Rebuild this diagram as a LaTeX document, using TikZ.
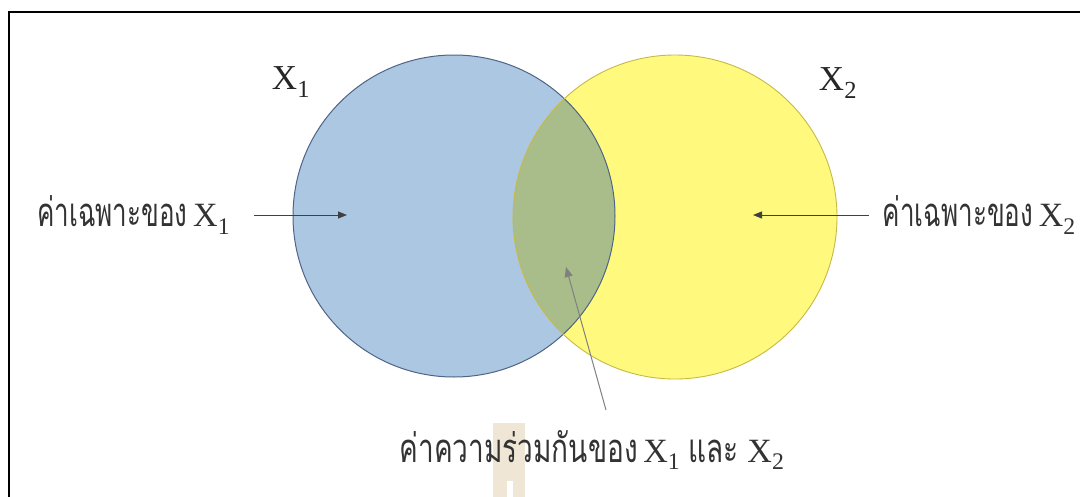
\documentclass[tikz,border=0pt]{standalone}
\usepackage{fontspec}
\setmainfont{Liberation Serif}
\newfontfamily\thaifont[Script=Thai]{Loma}
\usetikzlibrary{arrows.meta,calc}
\definecolor{bluefill}{RGB}{172,199,226}
\definecolor{blueline}{RGB}{80,100,135}
\definecolor{yelfill}{RGB}{255,250,125}
\definecolor{yelline}{RGB}{200,185,70}
\definecolor{ovfill}{RGB}{168,189,138}
\definecolor{hl}{RGB}{240,230,214}
\tikzset{
  lbl/.style={inner sep=0pt, font=\fontsize{34}{36}\selectfont, text=black!80},
  xlbl/.style={inner sep=0pt, font=\fontsize{35}{38}\selectfont, text=black!85},
  ptr/.style={-{Triangle[length=9pt,width=7pt]}, line width=1pt, draw=black!75},
  ptrg/.style={-{Triangle[length=10pt,width=8pt]}, line width=1pt, draw=black!50},
}
\newcommand{\thx}[1]{{\thaifont\fontsize{40}{42}\selectfont\scalebox{0.65}[1]{#1}}}
\newcommand{\thy}[1]{{\thaifont\fontsize{40}{42}\selectfont\scalebox{0.7}[1]{#1}}}
\begin{document}
\begin{tikzpicture}[x=1pt,y=-1pt]
\useasboundingbox (0,0) rectangle (1080,496);
\fill[white] (0,0) rectangle (1080,496);
% frame
\draw[line width=2.6pt] (9,497) -- (9,12) -- (1081,12);
% circles
\coordinate (c1) at (454,216);
\coordinate (c2) at (675,217);
\fill[bluefill] (c1) circle (161);
\fill[yelfill] (c2) circle (162);
\begin{scope}
  \clip (c1) circle (161);
  \fill[ovfill] (c2) circle (162);
\end{scope}
\draw[blueline, line width=1pt] (c1) circle (161);
\draw[yelline, line width=0.9pt] (c2) circle (162);
% set labels
\node[xlbl] (x1) at (291,82) {X\textsubscript{1}};
\node[xlbl] (x2) at (838,83) {X\textsubscript{2}};
% highlight
\fill[hl] (493,423) rectangle (525,497);
\fill[white] (507,481) rectangle (513,497);
% side labels
\node[lbl, anchor=west] (l1) at (37,215) {\thx{ค่าเฉพาะของ}\,X\textsubscript{1}};
\node[lbl, anchor=east] (l2) at (1076,215) {\thx{ค่าเฉพาะของ}\,X\textsubscript{2}};
\coordinate (t1) at (347,215);
\coordinate (t2) at (753,215);
\draw[ptr] ($(l1.east)+(24,0)$) -- (t1);
\draw[ptr] ($(l2.west)+(-14,0)$) -- (t2);
% bottom label
\node[lbl] (m) at (592,450) {\thy{ค่าความร่วมกันของ}\,X\textsubscript{1} \thy{และ} X\textsubscript{2}};
\coordinate (tm) at (566,267);
\coordinate (sm) at (606,410);
\draw[ptrg] (sm) -- (tm);
\end{tikzpicture}
\end{document}
